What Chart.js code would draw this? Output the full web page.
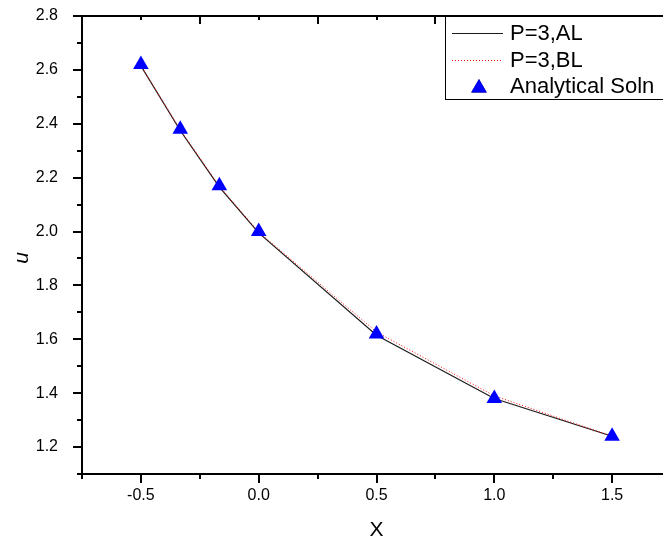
<!DOCTYPE html>
<html>
<head>
<meta charset="utf-8">
<script src="https://cdn.jsdelivr.net/npm/chart.js@4.4.0/dist/chart.umd.min.js"></script>
<style>
    html, body { margin: 0; padding: 0; background: #fff; overflow: hidden; }
    #wrap { width: 680px; height: 543px; }
</style>
</head>
<body>
<div id="wrap"><canvas id="chart" width="680" height="543"></canvas></div>
<script>
// Data
const nodeX = [-0.5, -0.333, -0.167, 0.0, 0.5, 1.0, 1.5];
const alValues = [2.615, 2.375, 2.165, 1.995, 1.615, 1.38, 1.24];
const blValues = [2.615, 2.378, 2.168, 1.998, 1.627, 1.39, 1.24];
const exactValues = [2.62, 2.38, 2.17, 2.00, 1.62, 1.38, 1.24];
const seriesLabels = ['P=3,AL', 'P=3,BL', 'Analytical Soln'];
const xTitle = 'X';
const yTitle = 'u';

const FONT = '"Liberation Sans", Arial, sans-serif';

const toPoints = (xs, ys) => xs.map((x, i) => ({ x: x, y: ys[i] }));
const isMajorX = v => Math.round(v * 4) % 2 === 0;
const isMajorY = v => Math.round(v * 10) % 2 === 0;

// Axis frame + Origin style ticks (outward on left/bottom, inward on top)
const frameTicks = {
    id: 'frameTicks',
    afterDraw(chart) {
        const { ctx, chartArea: a, scales: { x, y } } = chart;
        ctx.save();
        ctx.strokeStyle = '#000';
        ctx.lineWidth = 2;
        ctx.beginPath();
        ctx.moveTo(a.left, a.top);
        ctx.lineTo(a.right, a.top);
        ctx.moveTo(a.left, a.top);
        ctx.lineTo(a.left, a.bottom);
        ctx.lineTo(a.right, a.bottom);
        ctx.stroke();

        ctx.beginPath();
        x.ticks.forEach(t => {
            const px = Math.round(x.getPixelForValue(t.value));
            const major = isMajorX(t.value);
            ctx.moveTo(px, a.bottom);
            ctx.lineTo(px, a.bottom + (major ? 9 : 5));
            ctx.moveTo(px, a.top);
            ctx.lineTo(px, a.top + (major ? 4 : 8));
        });
        y.ticks.forEach(t => {
            const py = Math.round(y.getPixelForValue(t.value));
            ctx.moveTo(a.left, py);
            ctx.lineTo(a.left - (isMajorY(t.value) ? 9 : 5), py);
        });
        ctx.stroke();

        // y axis title
        ctx.translate(22, 258);
        ctx.rotate(-Math.PI / 2);
        ctx.fillStyle = '#000';
        ctx.font = 'italic 21px ' + FONT;
        ctx.textAlign = 'center';
        ctx.textBaseline = 'middle';
        ctx.fillText(yTitle, 0, 0);
        ctx.restore();
    }
};

// Boxed legend in the top right corner of the plot
const boxLegend = {
    id: 'boxLegend',
    afterDraw(chart) {
        const { ctx, chartArea: a } = chart;
        const left = 445, top = a.top, bottom = 99;
        ctx.save();
        ctx.fillStyle = '#fff';
        ctx.fillRect(left, top + 1, chart.width - left + 5, bottom - top - 1);
        ctx.strokeStyle = '#000';
        ctx.lineWidth = 1;
        ctx.strokeRect(left + 0.5, top + 0.5, chart.width, bottom - top);

        const rows = [33, 60, 86];
        chart.data.datasets.forEach((ds, i) => {
            const ry = rows[i];
            if (ds.showLine) {
                ctx.strokeStyle = ds.borderColor;
                ctx.lineWidth = ds.borderWidth;
                ctx.setLineDash(ds.borderDash || []);
                ctx.beginPath();
                ctx.moveTo(452, ry + 0.5);
                ctx.lineTo(503, ry + 0.5);
                ctx.stroke();
                ctx.setLineDash([]);
            } else {
                Chart.helpers.drawPoint(ctx, {
                    pointStyle: 'triangle',
                    radius: ds.pointRadius,
                    borderWidth: 0
                }, 479, ry + 2);
                ctx.fillStyle = ds.backgroundColor;
                ctx.fill();
            }
            ctx.fillStyle = '#000';
            ctx.font = '22px ' + FONT;
            ctx.textBaseline = 'middle';
            ctx.textAlign = 'left';
            ctx.fillText(ds.label, 510, ry + 1);
        });
        ctx.restore();
    }
};

const ctx = document.getElementById('chart').getContext('2d');
new Chart(ctx, {
    type: 'scatter',
    data: {
        datasets: [
            {
                label: seriesLabels[0],
                data: toPoints(nodeX, alValues),
                showLine: true,
                borderColor: '#1a1a1a',
                borderWidth: 1.2,
                pointRadius: 0,
                tension: 0,
                order: 3
            },
            {
                label: seriesLabels[1],
                data: toPoints(nodeX, blValues),
                showLine: true,
                borderColor: '#ff0000',
                borderWidth: 1,
                borderDash: [1, 2],
                pointRadius: 0,
                tension: 0,
                order: 2
            },
            {
                label: seriesLabels[2],
                data: toPoints(nodeX, exactValues),
                showLine: false,
                pointStyle: 'triangle',
                pointRadius: 9,
                backgroundColor: '#0000ff',
                borderColor: '#0000ff',
                borderWidth: 0,
                order: 1
            }
        ]
    },
    options: {
        responsive: false,
        animation: false,
        layout: { padding: { top: 16, right: 8, left: 0, bottom: 0 } },
        plugins: {
            legend: { display: false },
            tooltip: { enabled: false }
        },
        scales: {
            x: {
                type: 'linear',
                min: -0.75,
                max: 1.75,
                afterFit: s => {
                    s.height = 69;
                    s.paddingLeft = 0;
                    s.paddingRight = 0;
                },
                grid: { display: false },
                border: { display: false },
                ticks: {
                    stepSize: 0.25,
                    autoSkip: false,
                    maxRotation: 0,
                    padding: 4,
                    color: '#000',
                    font: { family: FONT, size: 16 },
                    callback: v => isMajorX(v) ? v.toFixed(1) : ''
                },
                title: {
                    display: true,
                    text: xTitle,
                    color: '#000',
                    font: { family: FONT, size: 21 },
                    padding: { top: 0, bottom: 0 }
                }
            },
            y: {
                type: 'linear',
                min: 1.1,
                max: 2.8,
                afterFit: s => {
                    s.width = 82;
                    s.paddingTop = 0;
                    s.paddingBottom = 0;
                },
                grid: { display: false },
                border: { display: false },
                ticks: {
                    stepSize: 0.1,
                    autoSkip: false,
                    padding: 16,
                    color: '#000',
                    font: { family: FONT, size: 16 },
                    callback: v => isMajorY(v) ? v.toFixed(1) : ''
                },
                title: { display: false }
            }
        }
    },
    plugins: [frameTicks, boxLegend]
});
</script>
</body>
</html>
